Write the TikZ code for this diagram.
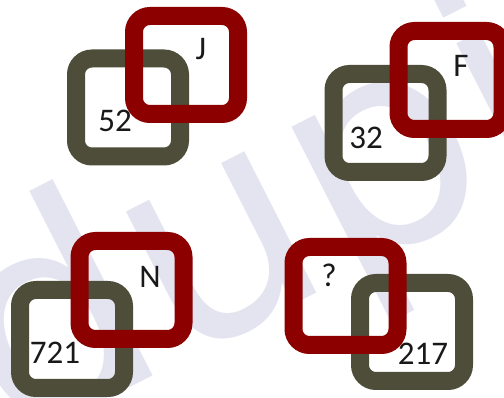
\documentclass[tikz,border=0pt]{standalone}
\usepackage{fontspec}
\setmainfont{Carlito}
\newfontfamily\wmfont{DejaVu Sans}
\definecolor{boxdark}{RGB}{78,77,58}
\definecolor{boxred}{RGB}{140,0,0}
\definecolor{wmcol}{RGB}{227,228,240}
\begin{document}
\begin{tikzpicture}[x=1pt,y=-1pt,
  sq/.style={draw, line width=18pt, rounded corners=16pt, inner sep=0pt,
    minimum width=104pt, minimum height=98pt},
  darkbox/.style={sq, draw=boxdark},
  redbox/.style={sq, draw=boxred},
  lbl/.style={font=\fontsize{33}{33}\selectfont, text=black!90, anchor=base, inner sep=0pt}]
\useasboundingbox (0,0) rectangle (504,398);
\clip (0,0) rectangle (504,398);
\fill[white] (0,0) rectangle (504,398);
% watermark
\node[rotate=27, anchor=base west, inner sep=0pt, text=wmcol,
  font=\wmfont\fontsize{290}{290}\selectfont] (wm) at (12,448) {dupi};
% panel 1
\node[darkbox] (d1) at (128,107.5) {};
\node[redbox] (r1) at (186,65) {};
% panel 2
\node[darkbox] (d2) at (385.5,123) {};
\node[redbox] (r2) at (450.5,80) {};
% panel 3
\node[darkbox] (d3) at (72,339) {};
\node[redbox] (r3) at (131.5,290) {};
% panel 4
\node[darkbox] (d4) at (412,332) {};
\node[redbox] (r4) at (345.5,296) {};
% labels
\node[lbl] (t52) at (115,132) {52};
\node[lbl] (tJ) at (201,60) {J};
\node[lbl] (t32) at (366,149) {32};
\node[lbl] (tF) at (461,77) {F};
\node[lbl] (t721) at (55,364) {721};
\node[lbl] (tN) at (150,288) {N};
\node[lbl] (tq) at (329,287) {?};
\node[lbl] (t217) at (423,365) {217};
\end{tikzpicture}
\end{document}
